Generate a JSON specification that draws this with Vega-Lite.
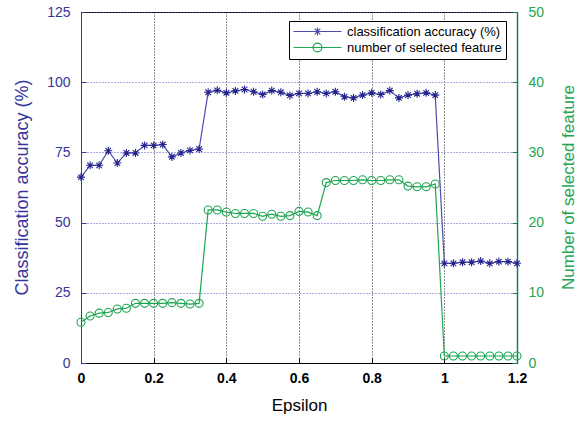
{
  "$schema": "https://vega.github.io/schema/vega-lite/v6.json",
  "autosize": "none",
  "width": 436,
  "height": 351,
  "padding": {"left": 81, "top": 12, "right": 62, "bottom": 58},
  "background": "white",
  "config": {
    "view": {"stroke": "black", "strokeWidth": 1},
    "font": "Liberation Sans",
    "axis": {"labelFont": "Liberation Sans", "titleFont": "Liberation Sans", "titleFontWeight": "normal"}
  },
  "data": {
    "values": [
      {"eps": 0, "acc": 66.2, "feat": 5.8},
      {"eps": 0.025, "acc": 70.4, "feat": 6.7},
      {"eps": 0.05, "acc": 70.4, "feat": 7.1},
      {"eps": 0.075, "acc": 75.6, "feat": 7.2},
      {"eps": 0.1, "acc": 71.2, "feat": 7.7},
      {"eps": 0.125, "acc": 74.8, "feat": 7.8},
      {"eps": 0.15, "acc": 74.8, "feat": 8.5},
      {"eps": 0.175, "acc": 77.5, "feat": 8.5},
      {"eps": 0.2, "acc": 77.5, "feat": 8.5},
      {"eps": 0.225, "acc": 77.8, "feat": 8.5},
      {"eps": 0.25, "acc": 73.4, "feat": 8.6},
      {"eps": 0.275, "acc": 74.8, "feat": 8.5},
      {"eps": 0.3, "acc": 75.7, "feat": 8.4},
      {"eps": 0.325, "acc": 76.2, "feat": 8.5},
      {"eps": 0.35, "acc": 96.4, "feat": 21.8},
      {"eps": 0.375, "acc": 97.1, "feat": 21.8},
      {"eps": 0.4, "acc": 96.2, "feat": 21.5},
      {"eps": 0.425, "acc": 96.9, "feat": 21.3},
      {"eps": 0.45, "acc": 97.4, "feat": 21.3},
      {"eps": 0.475, "acc": 96.6, "feat": 21.3},
      {"eps": 0.5, "acc": 95.6, "feat": 20.9},
      {"eps": 0.525, "acc": 97.0, "feat": 21.2},
      {"eps": 0.55, "acc": 96.4, "feat": 20.9},
      {"eps": 0.575, "acc": 95.3, "feat": 21.0},
      {"eps": 0.6, "acc": 96.0, "feat": 21.6},
      {"eps": 0.625, "acc": 96.0, "feat": 21.5},
      {"eps": 0.65, "acc": 96.6, "feat": 21.0},
      {"eps": 0.675, "acc": 96.0, "feat": 25.7},
      {"eps": 0.7, "acc": 96.6, "feat": 26.0},
      {"eps": 0.725, "acc": 94.8, "feat": 26.0},
      {"eps": 0.75, "acc": 94.4, "feat": 26.0},
      {"eps": 0.775, "acc": 95.4, "feat": 26.1},
      {"eps": 0.8, "acc": 96.2, "feat": 26.0},
      {"eps": 0.825, "acc": 95.6, "feat": 26.0},
      {"eps": 0.85, "acc": 97.0, "feat": 26.1},
      {"eps": 0.875, "acc": 94.4, "feat": 26.1},
      {"eps": 0.9, "acc": 95.4, "feat": 25.2},
      {"eps": 0.925, "acc": 95.9, "feat": 25.1},
      {"eps": 0.95, "acc": 96.2, "feat": 25.1},
      {"eps": 0.975, "acc": 95.4, "feat": 25.5},
      {"eps": 1.0, "acc": 35.5, "feat": 1},
      {"eps": 1.025, "acc": 35.5, "feat": 1},
      {"eps": 1.05, "acc": 35.9, "feat": 1},
      {"eps": 1.075, "acc": 35.9, "feat": 1},
      {"eps": 1.1, "acc": 36.3, "feat": 1},
      {"eps": 1.125, "acc": 35.5, "feat": 1},
      {"eps": 1.15, "acc": 36.1, "feat": 1},
      {"eps": 1.175, "acc": 36.1, "feat": 1},
      {"eps": 1.2, "acc": 35.5, "feat": 1}
    ]
  },
  "encoding": {
    "x": {
      "field": "eps", "type": "quantitative",
      "scale": {"domain": [0, 1.2], "nice": false, "zero": false},
      "axis": {
        "title": "Epsilon",
        "values": [0, 0.2, 0.4, 0.6, 0.8, 1, 1.2],
        "format": "~g",
        "labelFlush": false,
        "labelFontSize": 14, "labelFontWeight": "bold", "labelColor": "black",
        "labelPadding": 13, "tickSize": -5, "tickColor": "black",
        "domainColor": "black",
        "grid": true, "gridColor": "#222222", "gridDash": [1, 2], "gridWidth": 1,
        "titleFontSize": 17, "titleColor": "black",
        "titleX": 218, "titleY": 42, "titleBaseline": "middle", "titleAlign": "center"
      }
    }
  },
  "layer": [
    {
      "encoding": {
        "y": {
          "field": "acc", "type": "quantitative",
          "scale": {"domain": [0, 125], "nice": false},
          "axis": {
            "orient": "left",
            "title": "Classification accuracy (%)",
            "values": [0, 25, 50, 75, 100, 125],
            "labelFontSize": 14, "labelColor": "#35359a",
            "labelPadding": 16, "tickSize": -5, "tickColor": "#35359a",
            "domainColor": "#35359a",
            "grid": true, "gridColor": "#5a5ac8", "gridDash": [1, 2], "gridWidth": 1,
            "titleFontSize": 18, "titleColor": "#35359a",
            "titleAngle": 270, "titleX": -59, "titleY": 175, "titleBaseline": "middle", "titleAlign": "center"
          }
        }
      },
      "layer": [
        {
          "mark": {"type": "line", "strokeWidth": 1.2},
          "encoding": {
            "color": {
              "datum": "classification accuracy (%)",
              "type": "nominal",
              "scale": {"domain": ["classification accuracy (%)", "number of selected feature"], "range": ["#4c4cac", "#1ea552"]},
              "legend": {
                "title": null,
                "orient": "none",
                "legendX": 208,
                "legendY": 9,
                "direction": "vertical",
                "fillColor": "white",
                "strokeColor": "black",
                "padding": 4,
                "labelFont": "Liberation Sans",
                "labelFontSize": 13,
                "labelColor": "black",
                "labelExpr": "datum.label + '     '",
                "labelOffset": 23,
                "symbolOffset": 18,
                "rowPadding": 1,
                "symbolSize": 64,
                "symbolStrokeWidth": 1.2,
                "encode": {
                  "symbols": {
                    "update": {
                      "shape": {"signal": "datum.value == 'classification accuracy (%)' ? 'M-6,0H6M0,-1V1M-1,0H1M-0.7,-0.7L0.7,0.7M-0.7,0.7L0.7,-0.7' : 'M-6,0H6M-1.1,0A1.1,1.1 0 1,0 1.1,0A1.1,1.1 0 1,0 -1.1,0'"},
                      "fill": {"value": "transparent"}
                    }
                  }
                }
              }
            }
          }
        },
        {
          "mark": {
            "type": "point",
            "shape": "M-1,0H1M0,-1V1M-0.7,-0.7L0.7,0.7M-0.7,0.7L0.7,-0.7",
            "size": 64,
            "filled": false,
            "stroke": "#23238c",
            "strokeWidth": 1.1,
            "opacity": 1
          }
        }
      ]
    },
    {
      "encoding": {
        "y": {
          "field": "feat", "type": "quantitative",
          "scale": {"domain": [0, 50], "nice": false},
          "axis": {
            "orient": "right",
            "title": "Number of selected feature",
            "values": [0, 10, 20, 30, 40, 50],
            "labelFontSize": 14, "labelColor": "#1ea552",
            "labelPadding": 16, "tickSize": -5, "tickColor": "#1f7a63",
            "domainColor": "#1f7a63", "domainWidth": 1.5,
            "grid": false,
            "titleFontSize": 17, "titleColor": "#1ea552",
            "titleAngle": 270, "titleX": 51, "titleY": 175, "titleBaseline": "middle", "titleAlign": "center"
          }
        }
      },
      "layer": [
        {
          "mark": {"type": "line", "strokeWidth": 1.2},
          "encoding": {
            "color": {"datum": "number of selected feature", "type": "nominal"}
          }
        },
        {
          "mark": {
            "type": "point",
            "shape": "circle",
            "size": 64,
            "filled": false,
            "stroke": "#1ea552",
            "strokeWidth": 1.1,
            "opacity": 1
          }
        }
      ]
    }
  ],
  "resolve": {"scale": {"y": "independent"}}
}
